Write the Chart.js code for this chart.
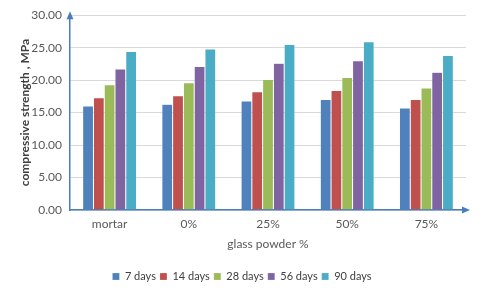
<!DOCTYPE html>
<html><head><meta charset="utf-8">
<script src="https://cdn.jsdelivr.net/npm/chart.js@4/dist/chart.umd.min.js"></script>
<style>html,body{margin:0;padding:0;background:#fff}#wrap{width:480px;height:293px}</style>
</head><body><div id="wrap"><canvas id="c"></canvas></div>
<script>
const categories = ["mortar", "0%", "25%", "50%", "75%"];
const seriesNames = ["7 days", "14 days", "28 days", "56 days", "90 days"];
const days7  = [16.0, 16.3, 16.8, 17.0, 15.7];
const days14 = [17.3, 17.6, 18.2, 18.4, 17.0];
const days28 = [19.3, 19.6, 20.1, 20.4, 18.8];
const days56 = [21.7, 22.1, 22.6, 23.0, 21.2];
const days90 = [24.4, 24.8, 25.5, 25.9, 23.8];
const yTicks = [0, 5, 10, 15, 20, 25, 30];
const colors = ["#4f81bd", "#c0504d", "#9bbb59", "#8064a2", "#4bacc6"];
const axisBlue = "#4a7ebb";
const font = "Lato, 'Open Sans', sans-serif";

const arrows = {
  id: "arrows",
  afterDraw(chart) {
    const ctx = chart.ctx, a = chart.chartArea;
    ctx.save();
    ctx.fillStyle = axisBlue;
    ctx.beginPath();
    ctx.moveTo(a.left, a.top - 4); ctx.lineTo(a.left - 3.5, a.top + 4); ctx.lineTo(a.left + 3.5, a.top + 4); ctx.closePath(); ctx.fill();
    ctx.beginPath();
    ctx.moveTo(a.right + 4, a.bottom); ctx.lineTo(a.right - 4, a.bottom - 3.5); ctx.lineTo(a.right - 4, a.bottom + 3.5); ctx.closePath(); ctx.fill();
    ctx.restore();
  }
};

const data = [days7, days14, days28, days56, days90];
new Chart(document.getElementById("c"), {
  type: "bar",
  data: {
    labels: categories,
    datasets: seriesNames.map((n, i) => ({
      label: n, data: data[i], backgroundColor: colors[i],
      borderColor: "rgba(255,255,255,0.5)", borderWidth: {left:0.5,right:0.5,top:0.5,bottom:0},
      barPercentage: 1, categoryPercentage: 0.68
    }))
  },
  options: {
    responsive: true, maintainAspectRatio: false, animation: false,
    layout: { padding: { top: 12, right: 14, left: 18, bottom: 1 } },
    plugins: {
      tooltip: { enabled: false },
      legend: {
        position: "bottom",
        labels: { font: { family: font, size: 11 }, color: "#404040", boxWidth: 7, boxHeight: 7, padding: 4 }
      }
    },
    scales: {
      x: {
        afterFit(s) { s.height = 57; },
        grid: { display: false, drawTicks: false },
        border: { color: axisBlue, width: 1.5 },
        ticks: { font: { family: font, size: 12 }, color: "#595959", padding: 7 },
        title: { display: true, text: "glass powder %", font: { family: font, size: 12 }, color: "#595959", padding: { top: 0, bottom: 16 } }
      },
      y: {
        min: 0, max: 30,
        afterFit(s) { s.width = 52; },
        afterBuildTicks(s) { s.ticks = yTicks.map(v => ({ value: v })); },
        grid: { color: "#d9d9d9", drawTicks: false },
        border: { color: axisBlue, width: 1.5 },
        ticks: { font: { family: font, size: 12 }, color: "#595959", padding: 8, callback: v => Number(v).toFixed(2) },
        title: { display: true, text: "compressive strength , MPa", font: { family: font, size: 12, weight: "bold" }, color: "#404040", padding: { top: 0, bottom: 2 } }
      }
    }
  },
  plugins: [arrows]
});
</script></body></html>
